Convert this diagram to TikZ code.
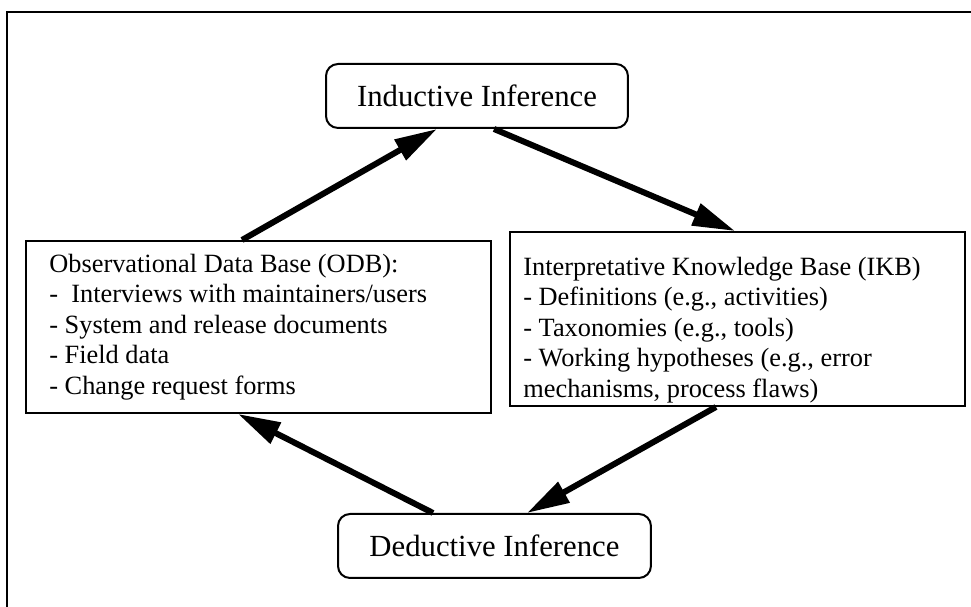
\documentclass[tikz,border=0pt]{standalone}
\usepackage{fontspec}
\setmainfont{Liberation Serif}
\usetikzlibrary{calc,arrows.meta}
\tikzset{
  frame/.style={line width=0.04cm},
  sqbox/.style={draw, line width=0.04cm, inner sep=0pt, anchor=north west},
  rndbox/.style={sqbox, rounded corners=0.24cm, font=\fontsize{17.5}{20}\selectfont},
  boxtext/.style={inner sep=0pt, anchor=west, align=left, font=\fontsize{15}{17.3}\selectfont},
  flow/.style={line width=0.12cm, -{Triangle[length=0.85cm,width=0.45cm]}}
}

\begin{document}
\begin{tikzpicture}[x=0.02cm, y=-0.02cm]
			%%%%% START %%%%%
			\useasboundingbox (0, 0) rectangle (971, 607);
			\clip (0, 0) rectangle (971, 607);
			\draw[frame] (7, 12) rectangle (1000, 640);
			
			\node[rndbox, minimum width=6.04cm, minimum height=1.28cm] (ind) at (325, 63) {Inductive Inference};
			\node[rndbox, minimum width=6.26cm, minimum height=1.28cm] (ded) at (337, 513) {Deductive Inference};
			
			\node[sqbox, minimum width=9.3cm, minimum height=3.44cm] (odb) at (25, 240) {};
			\node[boxtext] (odbtext) at ($(odb.west)+(24, 0)$) {Observational Data Base (ODB):\\
				-\ \ Interviews with maintainers/users\\
				- System and release documents\\
				- Field data\\
				- Change request forms};
			
			\node[sqbox, minimum width=9.1cm, minimum height=3.48cm] (ikb) at (509, 231) {};
			\node[boxtext] (ikbtext) at ($(ikb.west)+(14, 11)$) {Interpretative Knowledge Base (IKB)\\
				- Definitions (e.g., activities)\\
				- Taxonomies (e.g., tools)\\
				- Working hypotheses (e.g., error\\
				mechanisms, process flaws)};
			
			\draw[flow] ($(odb.north west)+(217, 0)$) -- ($(ind.south west)+(112, 0)$);
			\draw[flow] ($(ind.south west)+(169, 0)$) -- ($(ikb.north west)+(226, 0)$);
			\draw[flow] ($(ikb.south west)+(207, 0)$) -- ($(ded.north west)+(190, 0)$);
			\draw[flow] ($(ded.north west)+(96, 0)$) -- ($(odb.south west)+(213, 0)$);
			%%%%% END %%%%%
\end{tikzpicture}
\end{document}
